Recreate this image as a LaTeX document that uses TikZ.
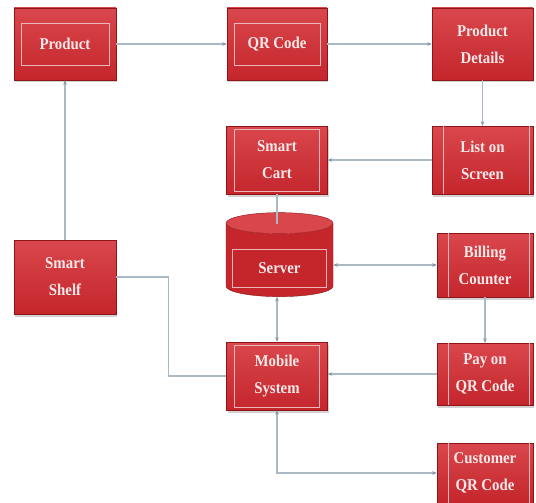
\documentclass[tikz,border=0pt]{standalone}
\usepackage{fontspec}
\setmainfont{Liberation Serif}
\newfontfamily\boxfont[FakeStretch=0.9]{Liberation Serif}
\usepackage{tikz}
\usetikzlibrary{positioning,arrows.meta,shapes.geometric,shadows}
\definecolor{cartred}{HTML}{C4262C}
\definecolor{cartlight}{HTML}{D9474C}
\definecolor{cartdark}{HTML}{8E1418}
\definecolor{carttext}{HTML}{F7E9E9}
\definecolor{cartline}{HTML}{A9BAC6}
\definecolor{cartarrow}{HTML}{7D93A6}

\begin{document}
\begin{tikzpicture}[
  x=1pt, y=-1pt,
  block/.style={draw=cartdark, line width=0.4pt, top color=cartlight, bottom color=cartred,
                text=carttext, font=\boxfont\bfseries\fontsize{16.5}{27}\selectfont,
                align=center, inner sep=0pt,
                drop shadow={opacity=0.35, shadow xshift=1pt, shadow yshift=-2.5pt}},
  store/.style={cylinder, shape border rotate=90, aspect=0.5, draw=cartdark, line width=0.4pt,
                cylinder uses custom fill, cylinder body fill=cartred, cylinder end fill=cartlight,
                text=carttext, font=\boxfont\bfseries\fontsize{16.5}{27}\selectfont, inner sep=0pt,
                text height=31pt, text depth=4pt},
  frame/.style={draw=carttext!75!cartred, line width=0.6pt},
  link/.style={draw=cartline, line width=1.1pt},
  tip/.style={-{Stealth[length=4.5pt, width=3.5pt, color=cartarrow]}},
  tips/.style={{Stealth[length=4.5pt, width=3.5pt, color=cartarrow]}-{Stealth[length=4.5pt, width=3.5pt, color=cartarrow]}},
]
\fill[white] (0,0) rectangle (536,503);
\useasboundingbox (0,0) rectangle (536,503);
\def\ax{65} \def\bx{277} \def\cx{482.5} \def\dx{485}
% top row
\node[block, minimum width=102, minimum height=72] (product) at (\ax,44) {Product};
\node[block, minimum width=100, minimum height=72] (qr) at (\bx,44) {QR Code};
\node[block, minimum width=101, minimum height=72] (details) at (\cx,44) {Product\\Details};
% middle
\node[block, minimum width=101, minimum height=68] (cart) at (\bx,160) {Smart\\Cart};
\node[block, minimum width=101, minimum height=68] (list) at (\cx,160) {List on\\Screen};
\node[store, minimum width=107, minimum height=84] (server) at (279.5,260) {Server};
\node[block, minimum width=96, minimum height=64] (billing) at (\dx,265) {Billing\\Counter};
\node[block, minimum width=102, minimum height=74] (shelf) at (\ax,277) {Smart\\Shelf};
% bottom
\node[block, minimum width=101, minimum height=68] (mobile) at (\bx,376) {Mobile\\System};
\node[block, minimum width=96, minimum height=62] (pay) at (\dx,374) {Pay on\\QR Code};
\node[block, minimum width=96, minimum height=60] (customer) at (\dx,473) {Customer\\QR Code};
% inner frames
\foreach \n in {product,qr}
  \draw[frame] ([shift={(7,16)}]\n.north west) rectangle ([shift={(-7,-15)}]\n.south east);
\foreach \n in {cart,mobile}
  \draw[frame] ([shift={(8,3)}]\n.north west) rectangle ([shift={(-8,-3)}]\n.south east);
\foreach \n in {list,billing,pay,customer} {
  \draw[frame] ([xshift=11pt]\n.north west) -- ([xshift=11pt]\n.south west);
  \draw[frame] ([xshift=-4pt]\n.north east) -- ([xshift=-4pt]\n.south east);
}
\draw[frame] ([shift={(-47,-11)}]server.center) rectangle ([shift={(47,27)}]server.center);
% connectors
\draw[link, tip] (product) -- (qr);
\draw[link, tip] (qr) -- (details);
\draw[link, tip] (details) -- (list);
\draw[link, tip] (list) -- (cart);
\draw[link] (cart.south) -- ([yshift=-12pt]cart.south |- server.north);
\draw[link, tips] (billing.west -| server.east) -- (billing.west);
\draw[link, tip] (billing) -- (pay);
\draw[link, tip] (pay.west) -- (pay.west -| mobile.east);
\draw[link, tips] (mobile.north |- server.south) -- (mobile.north);
\draw[link] (shelf.east) -- ++(52,0) |- (mobile.west);
\draw[link, tip] (shelf) -- (product);
\draw[link, tips] (mobile.south) |- (customer.west);
\end{tikzpicture}
\end{document}
